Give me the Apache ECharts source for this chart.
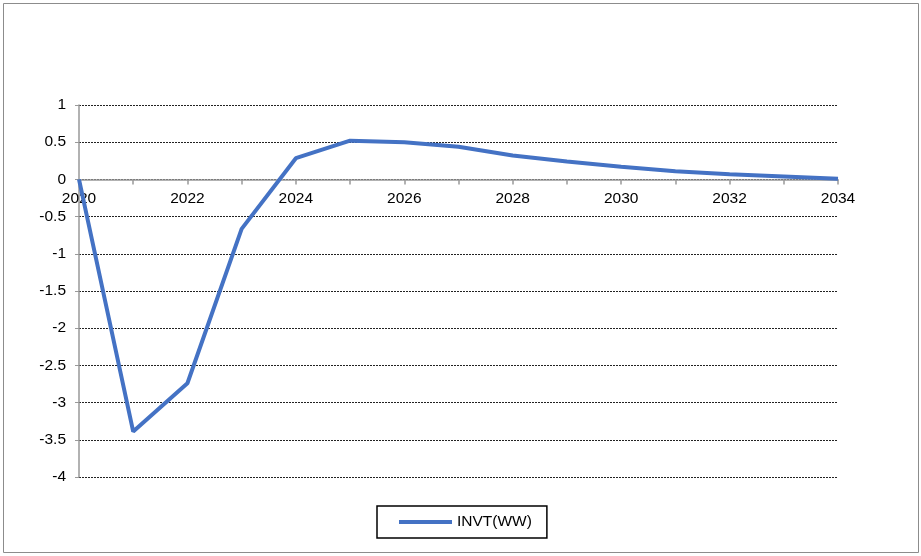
<!DOCTYPE html>
<html>
<head>
<meta charset="utf-8">
<script src="https://cdn.jsdelivr.net/npm/echarts@6/dist/echarts.min.js"></script>
<style>
  html, body { margin: 0; padding: 0; background: #fff; }
  #chart { width: 921px; height: 556px; }
</style>
</head>
<body>
<div id="chart"></div>
<script>
// INVT(WW) deviation by year
const years = [2020, 2021, 2022, 2023, 2024, 2025, 2026, 2027, 2028, 2029, 2030, 2031, 2032, 2033, 2034];
const invtWW = [0, -3.39, -2.74, -0.665, 0.285, 0.52, 0.50, 0.44, 0.32, 0.24, 0.17, 0.11, 0.07, 0.04, 0.01];
const seriesName = 'INVT(WW)';
const yTicks = [1, 0.5, 0, -0.5, -1, -1.5, -2, -2.5, -3, -3.5, -4];

const chart = echarts.init(document.getElementById('chart'), null, { renderer: 'canvas' });
const font = 'Liberation Sans, Arial, sans-serif';
const fontSize = 15.5;

const gridTop = 105, gridBottom = 79, chartH = 556;
const plotH = chartH - gridTop - gridBottom;
const yMin = yTicks[yTicks.length - 1], yMax = yTicks[0];
// lift the year axis from the bottom edge up to the zero line
const zeroOffset = -plotH * (0 - yMin) / (yMax - yMin);

chart.setOption({
  animation: false,
  backgroundColor: '#fff',
  graphic: [{
    type: 'rect',
    shape: { x: 3.5, y: 3.5, width: 915, height: 549 },
    style: { fill: 'none', stroke: '#8c8c8c', lineWidth: 1 },
    silent: true
  }],
  grid: { left: 79, right: 83, top: gridTop, bottom: gridBottom, containLabel: false },
  legend: {
    data: [{ name: seriesName, icon: 'rect' }],
    bottom: 18,
    left: 377,
    borderColor: '#000',
    borderWidth: 1.5,
    borderRadius: 0,
    padding: [8, 15, 8, 22],
    itemWidth: 53,
    itemHeight: 4,
    itemGap: 5,
    textStyle: { fontFamily: font, fontSize: fontSize, color: '#000' }
  },
  xAxis: {
    type: 'value',
    position: 'bottom',
    offset: zeroOffset,
    min: years[0],
    max: years[years.length - 1],
    interval: 1,
    axisLine: { onZero: false, lineStyle: { color: '#999', width: 1.5 } },
    axisTick: { show: true, length: 5, lineStyle: { color: '#999', width: 1.5 } },
    axisLabel: {
      fontFamily: font, fontSize: fontSize, color: '#000', margin: 11,
      formatter: v => (v % 2 === 0 ? String(v) : '')
    },
    splitLine: { show: false }
  },
  yAxis: {
    type: 'value',
    min: yMin,
    max: yMax,
    interval: 0.5,
    axisLine: { show: true, onZero: false, lineStyle: { color: '#999', width: 1.5 } },
    axisTick: { show: true, length: 4, lineStyle: { color: '#999', width: 1 } },
    axisLabel: { fontFamily: font, fontSize: fontSize, color: '#000', margin: 13 },
    splitLine: { show: true, lineStyle: { color: '#222', type: [2, 1], width: 1 } }
  },
  series: [{
    name: seriesName,
    type: 'line',
    data: years.map((y, i) => [y, invtWW[i]]),
    showSymbol: false,
    symbol: 'none',
    lineStyle: { color: '#4472C4', width: 4 },
    itemStyle: { color: '#4472C4' },
    z: 5
  }]
});
</script>
</body>
</html>
